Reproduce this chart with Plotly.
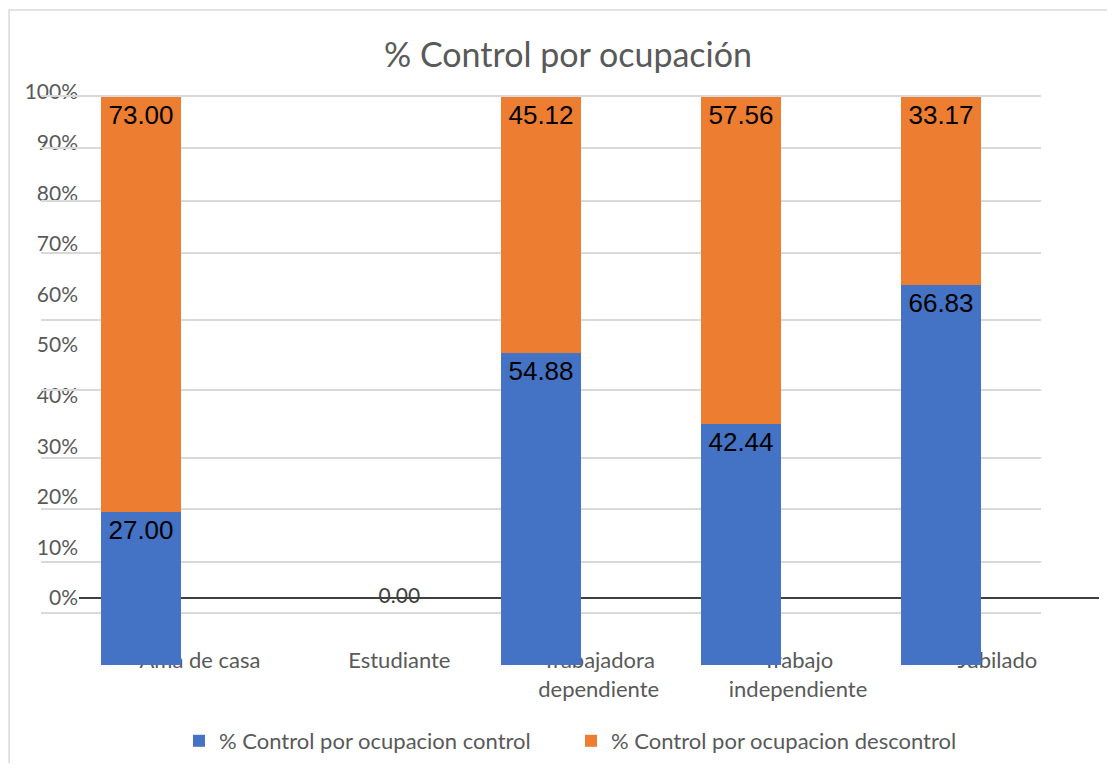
import plotly.graph_objects as go

# Data
categorias = ["Ama de casa", "Estudiante", "Trabajadora dependiente",
              "Trabajo independiente", "Jubilado"]
etiquetas = ["Ama de casa", "Estudiante", "Trabajadora<br>dependiente",
             "Trabajo<br>independiente", "Jubilado"]
control = [27.00, 0.00, 54.88, 42.44, 66.83]
descontrol = [73.00, 0.00, 45.12, 57.56, 33.17]
ticks_pct = [0, 10, 20, 30, 40, 50, 60, 70, 80, 90, 100]

# page has an 8px body margin, so the figure is sized to fit inside the window
OFF = 8
W, H = 1115 - 2 * OFF, 771 - 2 * OFF
AZUL = "#4472C4"
NARANJA = "#ED7D31"
GRIS_TXT = "#595959"
GRIS_GRID = "#D9D9D9"
FUENTE = "Lato, 'Open Sans', sans-serif"


def fx(p):
    return (p - OFF) / W


def fy(p):
    return 1 - (p - OFF) / H


def rotulos(vals):
    return [f"{v:.2f}" if v else "" for v in vals]


fig = go.Figure()

# bars (second subplot, drawn above the label axes)
fig.add_trace(go.Bar(
    x=categorias, y=control, name="% Control por ocupacion control",
    marker=dict(color=AZUL, line=dict(width=0)),
    text=rotulos(control), textposition="inside", insidetextanchor="end",
    textangle=0, textfont=dict(family="'Liberation Sans', Arial", size=26, color="black"),
    width=0.4, xaxis="x2", yaxis="y2",
))
fig.add_trace(go.Bar(
    x=categorias, y=descontrol, name="% Control por ocupacion descontrol",
    marker=dict(color=NARANJA, line=dict(width=0)),
    text=rotulos(descontrol), textposition="inside", insidetextanchor="end",
    textangle=0, textfont=dict(family="'Liberation Sans', Arial", size=26, color="black"),
    width=0.4, xaxis="x2", yaxis="y2",
))

# label for the empty category, sitting on the 0% line
ceros = [i for i in range(len(categorias)) if control[i] + descontrol[i] == 0]
fig.add_trace(go.Scatter(
    x=ceros, y=[control[i] for i in ceros], mode="text",
    text=[f"{control[i]:.2f}" for i in ceros],
    textfont=dict(family=FUENTE, size=21, color="#404040"),
    showlegend=False, hoverinfo="skip", xaxis="x", yaxis="y",
))

fig.update_layout(
    width=W, height=H,
    margin=dict(l=0, r=0, t=0, b=0, autoexpand=False),
    paper_bgcolor="white", plot_bgcolor="rgba(0,0,0,0)",
    barmode="stack",
    font=dict(family=FUENTE, color=GRIS_TXT),
    title=dict(text="% Control por ocupación", x=fx(568), y=fy(55),
               xanchor="center", yanchor="middle",
               font=dict(family=FUENTE, size=34, color=GRIS_TXT)),
    xaxis=dict(domain=[fx(79), fx(1099)], range=[-0.607, 4.51],
               tickvals=list(range(len(etiquetas))), ticktext=etiquetas,
               showgrid=False, zeroline=False, showline=False, ticks="",
               automargin=False,
               tickfont=dict(size=22, color=GRIS_TXT), anchor="y"),
    yaxis=dict(domain=[fy(645), fy(92)], range=[-9.29, 100],
               tickvals=ticks_pct, ticktext=[f"{v}%" for v in ticks_pct],
               showgrid=False,
               zeroline=True, zerolinecolor="#404040", zerolinewidth=2,
               ticks="", automargin=False,
               tickfont=dict(size=21, color=GRIS_TXT), anchor="x"),
    xaxis2=dict(domain=[fx(41), fx(1041)], anchor="y2", automargin=False,
                showticklabels=False, showgrid=False, zeroline=False, ticks=""),
    yaxis2=dict(domain=[fy(665), fy(92)], range=[0, 100.88], anchor="x2",
                tickvals=[100.18, 91.02, 81.74, 72.59, 60.74, 48.42, 36.50,
                          27.46, 18.19, 9.21],
                showticklabels=False, showgrid=True, gridcolor=GRIS_GRID,
                gridwidth=1.6, zeroline=False, ticks="", automargin=False),
    legend=dict(orientation="h", x=fx(571), y=fy(741), xanchor="center",
                yanchor="middle", font=dict(size=22, color=GRIS_TXT),
                itemwidth=30, entrywidth=347, traceorder="normal"),
    shapes=[dict(type="rect", xref="paper", yref="paper",
                 x0=fx(8) + 0.001, x1=1.05, y0=-0.05, y1=fy(10),
                 line=dict(color=GRIS_GRID, width=1.5), layer="below")],
)

fig.write_html("out.html")
